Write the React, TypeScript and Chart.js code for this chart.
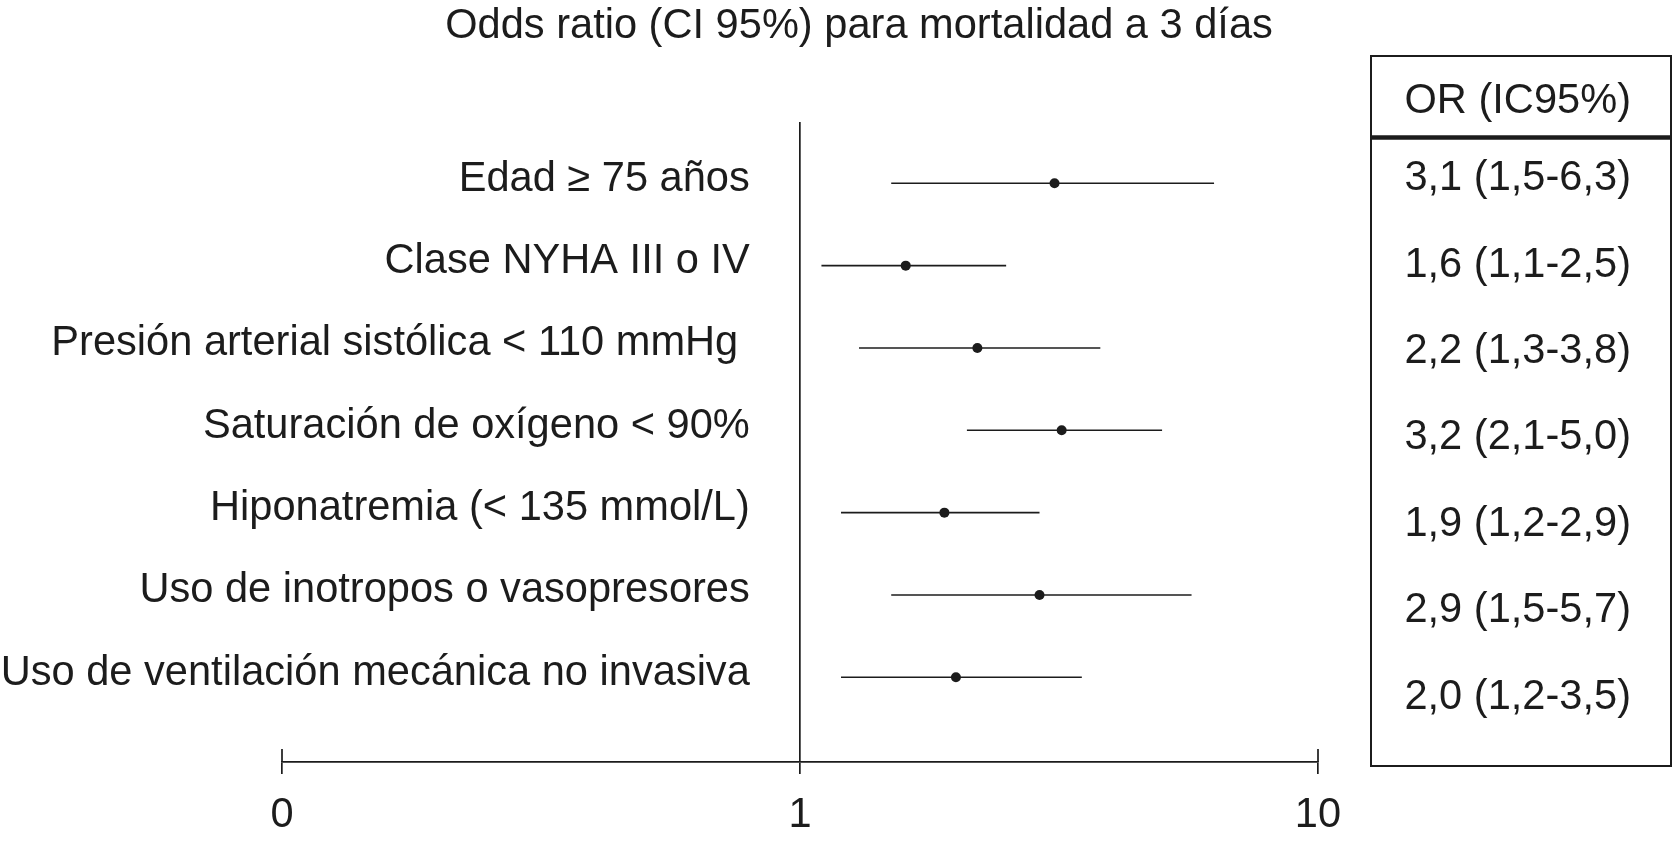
import React, { useEffect, useRef } from 'react';
import { Chart, registerables } from 'chart.js';

Chart.register(...registerables);

// ---------- data ----------
const rowLabels = [
  'Edad ≥ 75 años',
  'Clase NYHA III o IV',
  'Presión arterial sistólica < 110 mmHg ',
  'Saturación de oxígeno < 90%',
  'Hiponatremia (< 135 mmol/L)',
  'Uso de inotropos o vasopresores',
  'Uso de ventilación mecánica no invasiva',
];
const rowPositions = [1, 2, 3, 4, 5, 6, 7];
const orValues = [3.1, 1.6, 2.2, 3.2, 1.9, 2.9, 2.0];
const ciLow = [1.5, 1.1, 1.3, 2.1, 1.2, 1.5, 1.2];
const ciHigh = [6.3, 2.5, 3.8, 5.0, 2.9, 5.7, 3.5];
const xTickValues = [0.1, 1, 10];
const xTickLabels = ['0', '1', '10'];
const titleText = 'Odds ratio (CI 95%) para mortalidad a 3 días';
const tableHeader = 'OR (IC95%)';

const fmt = (v: number) => v.toFixed(1).replace('.', ',');
const tableLabels = orValues.map(
  (v, i) => `${fmt(v)} (${fmt(ciLow[i])}-${fmt(ciHigh[i])})`
);

// ---------- style ----------
const INK = '#1c1c1c';
const FONT = "'Liberation Sans', Arial, Helvetica, sans-serif";
const FONT_SIZE = 41.6;

// table scale slots (header slot + rows)
const TABLE_HEADER_POS = 0.1065;
const tablePositions = [TABLE_HEADER_POS, ...rowPositions];
const tableTexts = [tableHeader, ...tableLabels];

// where (in OR units) the right edge of the row labels sits
const LABEL_ANCHOR_OR = 0.8;

const forestExtras = {
  id: 'forestExtras',
  afterDraw(chart: any, _args: any, opts: any) {
    const ctx = chart.ctx;
    const xs = chart.scales.x;
    ctx.save();
    ctx.strokeStyle = INK;
    // upward caps of the end ticks of the x axis
    ctx.lineWidth = 1.7;
    xTickValues.forEach((v) => {
      if (v === 1) return;
      const px = xs.getPixelForValue(v);
      ctx.beginPath();
      ctx.moveTo(px, xs.top - opts.capUp);
      ctx.lineTo(px, xs.top);
      ctx.stroke();
    });
    // table box
    ctx.lineWidth = opts.boxWidth;
    ctx.strokeRect(opts.left, opts.top, opts.right - opts.left, opts.bottom - opts.top);
    ctx.lineWidth = opts.ruleWidth;
    ctx.beginPath();
    ctx.moveTo(opts.left, opts.rule);
    ctx.lineTo(opts.right, opts.rule);
    ctx.stroke();
    ctx.restore();
  },
};

export default function App() {
  const ref = useRef<HTMLCanvasElement | null>(null);

  useEffect(() => {
    document.body.style.margin = '0';
    const canvas = ref.current;
    if (!canvas) return;

    const ciDatasets = rowPositions.map((y, i) => ({
      type: 'scatter' as const,
      data: [
        { x: ciLow[i], y },
        { x: ciHigh[i], y },
      ],
      showLine: true,
      borderColor: INK,
      borderWidth: 1.6,
      pointRadius: 0,
      xAxisID: 'x',
      yAxisID: 'y',
    }));

    const pointDataset = {
      type: 'scatter' as const,
      data: rowPositions.map((y, i) => ({ x: orValues[i], y })),
      showLine: false,
      pointRadius: 5,
      pointBackgroundColor: INK,
      pointBorderColor: INK,
      pointBorderWidth: 0,
      xAxisID: 'x',
      yAxisID: 'y',
    };

    const Y_MIN = 0.2554;
    const Y_MAX = 8.029;

    const chart = new Chart(canvas, {
      type: 'scatter',
      data: { datasets: [...ciDatasets, pointDataset] as any },
      options: {
        animation: false,
        responsive: false,
        devicePixelRatio: 1,
        layout: { padding: { left: 87, right: 42, top: 0, bottom: 0 } },
        plugins: {
          legend: { display: false },
          tooltip: { enabled: false },
          title: {
            display: true,
            text: titleText,
            color: INK,
            font: { family: FONT, size: FONT_SIZE, weight: 'normal' as any },
            padding: { top: 1.5, bottom: 70.6 },
          },
          forestExtras: {
            left: 1371,
            right: 1671,
            top: 56,
            bottom: 766,
            rule: 137.5,
            boxWidth: 2,
            ruleWidth: 4.5,
            capUp: 13,
          },
        } as any,
        scales: {
          x: {
            type: 'logarithmic',
            position: 'bottom',
            min: 0.1,
            max: 10,
            afterBuildTicks: (scale: any) => {
              scale.ticks = xTickValues.map((value) => ({ value }));
            },
            afterFit: (scale: any) => {
              scale.height = 86;
            },
            ticks: {
              autoSkip: false,
              maxRotation: 0,
              padding: 17,
              color: INK,
              font: { family: FONT, size: FONT_SIZE },
              callback: (value: any) => {
                const idx = xTickValues.indexOf(Number(value));
                return idx >= 0 ? xTickLabels[idx] : '';
              },
            },
            grid: {
              drawOnChartArea: true,
              drawTicks: true,
              tickLength: 12,
              lineWidth: 1.7,
              color: (c: any) => (c.tick && c.tick.value === 1 ? INK : 'rgba(0,0,0,0)'),
              tickColor: INK,
              tickWidth: 1.7,
            },
            border: { display: true, color: INK, width: 1.7 },
          },
          // data axis (rows); reserves the left margin
          y: {
            type: 'linear',
            position: 'left',
            reverse: true,
            min: Y_MIN,
            max: Y_MAX,
            afterFit: (scale: any) => {
              scale.width = 195;
            },
            ticks: { display: false, padding: 0 },
            grid: { display: false, drawTicks: false },
            border: { display: false },
          },
          // row labels, anchored on the OR axis
          yl: {
            type: 'linear',
            axis: 'y',
            position: { x: LABEL_ANCHOR_OR },
            reverse: true,
            min: Y_MIN,
            max: Y_MAX,
            afterBuildTicks: (scale: any) => {
              scale.ticks = rowPositions.map((value) => ({ value }));
            },
            afterFit: (scale: any) => {
              scale.width = 0;
            },
            ticks: {
              autoSkip: false,
              padding: 0,
              labelOffset: -4,
              color: INK,
              font: { family: FONT, size: FONT_SIZE },
              callback: (value: any) => {
                const idx = rowPositions.indexOf(Number(value));
                return idx >= 0 ? rowLabels[idx] : '';
              },
            },
            grid: { display: false, drawTicks: false },
            border: { display: false },
          },
          // table column
          y2: {
            type: 'linear',
            axis: 'y',
            position: 'right',
            reverse: true,
            min: 0.3438,
            max: 7.751,
            afterBuildTicks: (scale: any) => {
              scale.ticks = tablePositions.map((value) => ({ value }));
            },
            afterFit: (scale: any) => {
              scale.width = 313;
            },
            ticks: {
              autoSkip: false,
              padding: 0,
              crossAlign: 'far',
              color: INK,
              font: { family: FONT, size: FONT_SIZE },
              callback: (value: any) => {
                const idx = tablePositions.indexOf(Number(value));
                return idx >= 0 ? tableTexts[idx] : '';
              },
            },
            grid: { display: false, drawTicks: false },
            border: { display: false },
          },
        } as any,
      },
      plugins: [forestExtras],
    });

    return () => chart.destroy();
  }, []);

  return (
    <div style={{ width: 1673, height: 848, background: '#ffffff' }}>
      <canvas ref={ref} width={1673} height={848} style={{ display: 'block' }} />
    </div>
  );
}
